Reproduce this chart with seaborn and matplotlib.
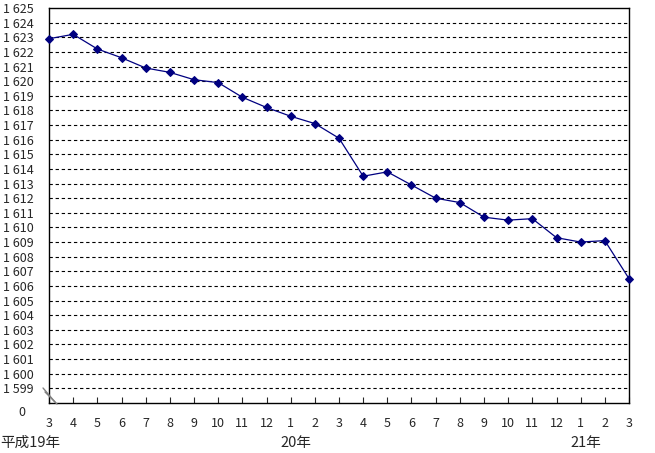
import matplotlib
matplotlib.use("Agg")
import matplotlib.pyplot as plt
import matplotlib.transforms as mtransforms
import pandas as pd
import seaborn as sns

# monthly values, H19.3 -> H21.3
months = ["3", "4", "5", "6", "7", "8", "9", "10", "11", "12", "1", "2",
          "3", "4", "5", "6", "7", "8", "9", "10", "11", "12", "1", "2", "3"]
values = [1622.9, 1623.2, 1622.2, 1621.6, 1620.9, 1620.6, 1620.1, 1619.9,
          1618.9, 1618.2, 1617.6, 1617.1, 1616.1, 1613.5, 1613.8, 1612.9,
          1612.0, 1611.7, 1610.7, 1610.5, 1610.6, 1609.3, 1609.0, 1609.1,
          1606.5]
year_labels = ["平成19年", "20年", "21年"]
year_pos = [0, 10, 22]
y_ticks = list(range(1598, 1626))

df = pd.DataFrame({"idx": range(len(values)), "value": values})

sns.set_style("white")
plt.rcParams["font.family"] = ["Noto Sans CJK JP", "DejaVu Sans"]

fig = plt.figure(figsize=(6.55, 4.53), dpi=100)
ax = fig.add_axes([49 / 655, 50 / 453, 580 / 655, 395 / 453])

sns.lineplot(data=df, x="idx", y="value", ax=ax, color="#000080",
             linewidth=0.9, marker="D", markersize=4.5,
             markeredgecolor="#000080", markerfacecolor="#000080")
for ln in ax.lines:
    ln.set_clip_on(False)
    ln.set_zorder(5)

ax.set_xlim(0, len(values) - 1)
ax.set_ylim(1598, 1625)
ax.set_xlabel("")
ax.set_ylabel("")

# dashed gridlines at each integer
for v in y_ticks[1:-1]:
    ax.axhline(v, color="black", linestyle=(0, (3, 2.5)), linewidth=0.8, zorder=0)

ax.set_yticks(y_ticks)
ylabels = ["0"] + [f"{v // 1000} {v % 1000:03d}" for v in y_ticks[1:]]
ax.set_yticklabels(ylabels)
ax.tick_params(axis="y", length=0, pad=11, labelsize=9)
ax.set_xticks(range(len(months)))
ax.set_xticklabels(months)
ax.tick_params(axis="x", direction="in", length=4, width=0.8, pad=10,
               labelsize=9, bottom=True)

# move "0" label down a little
zero = ax.get_yticklabels()[0]
zero.set_transform(zero.get_transform() +
                   mtransforms.ScaledTranslation(-6 / 72, -6 / 72, fig.dpi_scale_trans))

for s in ax.spines.values():
    s.set_color("black")
    s.set_linewidth(1.0)

# axis break mark
for x0, y0, x1, y1 in [(-0.0103, 0.038, 0.0103, 0.0025),
                       (-0.0069, 0.028, 0.0138, -0.0025)]:
    ax.plot([x0, x1], [y0, y1], transform=ax.transAxes, color="gray",
            linewidth=1.0, clip_on=False, zorder=10)

# year labels
trans = mtransforms.blended_transform_factory(ax.transData, fig.transFigure)
fig.text(0.0, 10 / 453, year_labels[0], fontsize=10.5, ha="left", va="center")
for lab, pos in zip(year_labels[1:], year_pos[1:]):
    ax.text(pos + 0.2, 10 / 453, lab, transform=trans, fontsize=10.5,
            ha="center", va="center")

fig.savefig("out.png", dpi=100)
